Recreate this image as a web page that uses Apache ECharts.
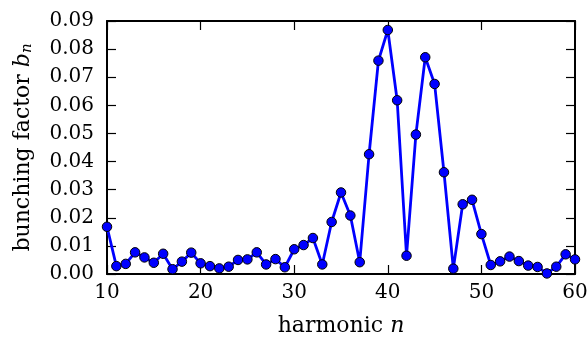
<!DOCTYPE html>
<html>
<head>
<meta charset="utf-8">
<script src="https://cdn.jsdelivr.net/npm/echarts@6/dist/echarts.min.js"></script>
<style>html,body{margin:0;padding:0;background:#fff}#c{width:588px;height:338px}</style>
</head>
<body>
<div id="c"></div>
<script>
var harmonics = [10,11,12,13,14,15,16,17,18,19,20,21,22,23,24,25,26,27,28,29,30,31,32,33,34,35,36,37,38,39,40,41,42,43,44,45,46,47,48,49,50,51,52,53,54,55,56,57,58,59,60];
var bunching = [0.0168,0.0028,0.0036,0.0077,0.0059,0.0040,0.0072,0.0017,0.0044,0.0076,0.0038,0.0028,0.0020,0.0026,0.0050,0.0052,0.0077,0.0034,0.0053,0.0024,0.0088,0.0103,0.0128,0.0034,0.0185,0.0290,0.0208,0.0042,0.0426,0.0759,0.0868,0.0618,0.0065,0.0496,0.0771,0.0676,0.0362,0.0019,0.0248,0.0264,0.0142,0.0032,0.0045,0.0062,0.0046,0.0030,0.0025,0.0002,0.0026,0.0070,0.0052];
var yTicks = ['0.00','0.01','0.02','0.03','0.04','0.05','0.06','0.07','0.08','0.09'];

var font = 'DejaVu Serif';
var data = harmonics.map(function(n,i){return [n, bunching[i]];});
var chart = echarts.init(document.getElementById('c'));
var axisLineStyle = {show:true, onZero:false, lineStyle:{color:'#000', width:2}};
var tickStyle = {show:true, inside:true, length:9, lineStyle:{color:'#000', width:1.2}};
chart.setOption({
  animation:false,
  grid:{left:107,right:13,top:21,bottom:64,containLabel:false,outerBoundsMode:'none'},
  xAxis:[{
    type:'value', min:10, max:60, interval:10, position:'bottom',
    axisLine:axisLineStyle, axisTick:tickStyle,
    splitLine:{show:false},
    axisLabel:{margin:9, color:'#000', fontFamily:font, fontSize:20},
    name:'{a|harmonic }{i|n}', nameLocation:'middle', nameGap:41,
    nameTextStyle:{rich:{a:{fontFamily:font,fontSize:22,color:'#000'}, i:{fontFamily:font,fontSize:22,fontStyle:'italic',color:'#000'}}}
  },{
    type:'value', min:10, max:60, interval:10, position:'top',
    axisLine:axisLineStyle, axisTick:tickStyle,
    axisLabel:{show:false}, splitLine:{show:false}
  }],
  yAxis:[{
    type:'value', min:0, max:0.09, interval:0.01, position:'left',
    axisLine:axisLineStyle, axisTick:tickStyle,
    splitLine:{show:false},
    axisLabel:{margin:13, color:'#000', fontFamily:font, fontSize:20,
      formatter:function(v){return yTicks[Math.round(v*100)];}},
    name:'{a|bunching factor }{b|b}{s|n}', nameLocation:'middle', nameGap:72, nameRotate:90,
    nameTextStyle:{rich:{
      a:{fontFamily:font,fontSize:22,color:'#000'},
      b:{fontFamily:font,fontSize:22,fontStyle:'italic',color:'#000'},
      s:{fontFamily:font,fontSize:15,fontStyle:'italic',color:'#000',padding:[9,0,0,0]}
    }}
  },{
    type:'value', min:0, max:0.09, interval:0.01, position:'right',
    axisLine:axisLineStyle, axisTick:tickStyle,
    axisLabel:{show:false}, splitLine:{show:false}
  }],
  series:[{
    type:'line', data:data, xAxisIndex:0, yAxisIndex:0,
    clip:true,
    lineStyle:{color:'#0000ff', width:2.8},
    symbol:'circle', symbolSize:9.5,
    itemStyle:{color:'#0000ff', borderColor:'#000', borderWidth:1}
  }]
});
</script>
</body>
</html>
